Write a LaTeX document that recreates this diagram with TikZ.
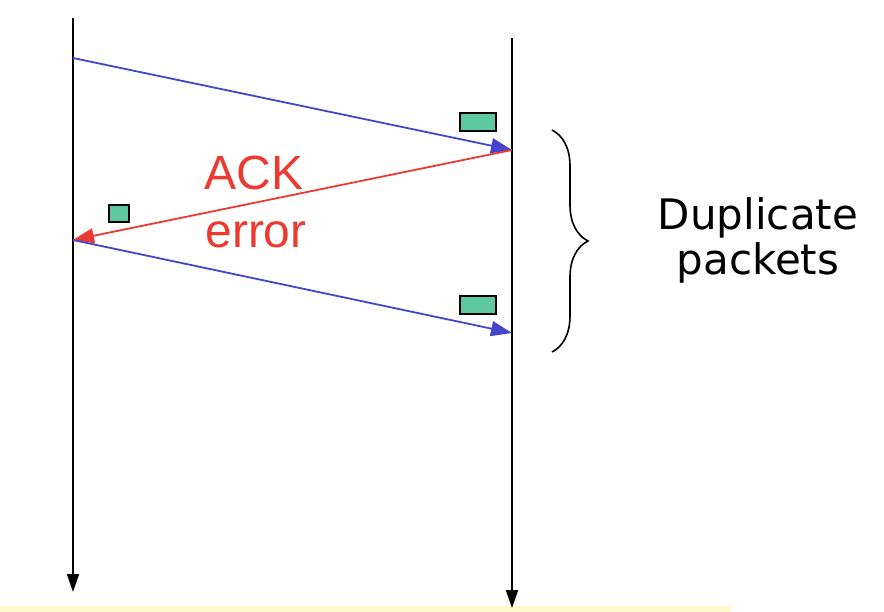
\documentclass[tikz,border=0pt]{standalone}
\usepackage{fontspec}
\setmainfont{Liberation Sans}
\newfontfamily\dupfont{DejaVu Sans}
\usetikzlibrary{arrows.meta,decorations.pathreplacing}
\definecolor{msgblue}{RGB}{68,68,204}
\definecolor{ackred}{RGB}{236,58,48}
\definecolor{pktgreen}{RGB}{94,200,160}
\definecolor{bandyellow}{RGB}{255,248,200}
\tikzset{
  timeline/.style={line width=1.8pt,-{Triangle[length=18pt,width=12pt]}},
  datamsg/.style={draw=msgblue,line width=1.8pt,-{Triangle[length=21pt,width=15pt]}},
  ackmsg/.style={draw=ackred,line width=1.8pt,-{Triangle[length=21pt,width=15pt]}},
  pkt/.style={draw=black,fill=pktgreen,line width=1.6pt,inner sep=0pt,rectangle},
  acklabel/.style={text=ackred,font=\fontsize{48}{56}\selectfont,anchor=base,inner sep=0pt},
  duplabel/.style={font=\dupfont\fontsize{42}{45}\selectfont,align=center,inner sep=0pt}
}
\begin{document}
\begin{tikzpicture}[x=1pt,y=-1pt]
\useasboundingbox (0,0) rectangle (884,612);
\fill[bandyellow] (0,606) rectangle (730,612);
% timelines
\coordinate (L0) at (73,18);
\coordinate (Lend) at (73,592);
\coordinate (R0) at (512,38);
\coordinate (Rend) at (512,608);
\coordinate (L1) at (73,58);
\coordinate (R1) at (512,150);
\coordinate (L2) at (73,240);
\coordinate (R2) at (512,333);
\draw[timeline] (L0) -- (Lend);
\draw[timeline] (R0) -- (Rend);
% messages
\draw[datamsg] (L1) -- (R1);
\draw[ackmsg] (R1) -- (L2);
\draw[datamsg] (L2) -- (R2);
% packets
\node[pkt,minimum width=36pt,minimum height=18pt] (p1) at (478,122) {};
\node[pkt,minimum width=20pt,minimum height=17pt] (p2) at (119,213.5) {};
\node[pkt,minimum width=36pt,minimum height=18pt] (p3) at (478,305) {};
% labels
\node[acklabel] (ack) at (254,190) {ACK};
\node[acklabel] (err) at (256,248) {error};
% brace
\coordinate (B0) at (552,130);
\coordinate (B1) at (552,352);
\draw[line width=1.6pt,decorate,decoration={brace,amplitude=36pt}] (B0) -- (B1);
\node[duplabel] (dup) at (758,240) {Duplicate\\packets};
\end{tikzpicture}
\end{document}
